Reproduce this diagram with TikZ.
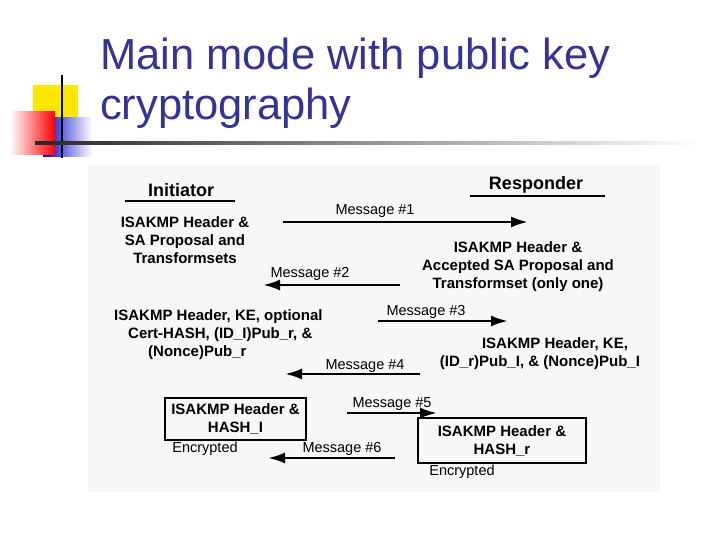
\documentclass[tikz,border=0pt]{standalone}
\usepackage{fontspec}
\setmainfont{Liberation Sans}
\usetikzlibrary{arrows.meta,positioning}
\definecolor{titleblue}{RGB}{51,51,153}
\tikzset{
  msg/.style={font=\fontsize{14.5}{16}\selectfont,inner sep=1pt},
  blk/.style={font=\fontsize{15}{18}\selectfont\bfseries,align=center,inner sep=1pt},
  flow/.style={line width=2.6pt,-{Latex[length=17pt,width=11pt]}},
  hdbox/.style={draw,line width=1.6pt,minimum width=141pt,minimum height=42pt}
}
\begin{document}
\begin{tikzpicture}[x=1pt,y=-1pt]
  \useasboundingbox (0,0) rectangle (720,540);
  % logo
  \fill[yellow!90!orange] (33,85) rectangle (78,125);
  \shade[left color=blue!80!black,right color=white] (43,118) rectangle (92,157);
  \shade[left color=white,right color=red] (10,112) rectangle (55,155);
  \draw[line width=1.5pt] (62,75) -- (62,158);
  \shade[left color=black!85,right color=white] (35,142) rectangle (700,145);
  % title
  \node[anchor=base west,text=titleblue,font=\fontsize{43.5}{50}\selectfont,inner sep=0] (title1) at (100,70) {Main mode with public key};
  \node[anchor=base west,text=titleblue,font=\fontsize{43.5}{50}\selectfont,inner sep=0] (title2) at (100,120) {cryptography};
  % scanned figure
  \fill[black!3] (88,165) rectangle (660,492);
  \node[font=\fontsize{18}{20}\selectfont\bfseries] (init) at (181,190) {Initiator};
  \node[font=\fontsize{18}{20}\selectfont\bfseries] (resp) at (536,185) {Responder};
  \draw[line width=1.2pt] (125,201) -- (235,201);
  \draw[line width=1.2pt] (470,196) -- (605,196);
  % message 1
  \node[msg] (m1) at (375,211) {Message \#1};
  \coordinate (a1s) at (283,222); \coordinate (a1e) at (528,222);
  \draw[flow] (a1s) -- (a1e);
  \node[blk] (b1) at (185,240) {ISAKMP Header \&\\SA Proposal and\\Transformsets};
  % message 2
  \node[blk] (b2) at (518,267) {ISAKMP Header \&\\Accepted SA Proposal and\\Transformset (only one)};
  \node[msg] (m2) at (310,274) {Message \#2};
  \coordinate (a2s) at (400,285); \coordinate (a2e) at (263,285);
  \draw[flow] (a2s) -- (a2e);
  % message 3
  \node[blk,align=left,anchor=north west] (b3) at (113,308) {ISAKMP Header, KE, optional\\\hspace*{14pt}Cert-HASH, (ID\_I)Pub\_r, \&\\\hspace*{34pt}(Nonce)Pub\_r};
  \node[msg] (m3) at (426,312) {Message \#3};
  \coordinate (a3s) at (378,321); \coordinate (a3e) at (508,321);
  \draw[flow] (a3s) -- (a3e);
  % message 4
  \node[blk] (b4) at (540,354) {\hspace*{30pt}ISAKMP Header, KE,\\(ID\_r)Pub\_I, \& (Nonce)Pub\_I};
  \node[msg] (m4) at (365,366) {Message \#4};
  \coordinate (a4s) at (420,374); \coordinate (a4e) at (285,374);
  \draw[flow] (a4s) -- (a4e);
  % message 5 and 6
  \node[hdbox] (box1) at (235.5,419) {};
  \node[blk] at (box1) {ISAKMP Header \&\\HASH\_I};
  \node[msg] (m5) at (392,404) {Message \#5};
  \coordinate (a5s) at (347,413); \coordinate (a5e) at (437,413);
  \draw[flow] (a5s) -- (a5e);
  \node[hdbox,minimum width=168pt,minimum height=45pt] (box2) at (502,440.5) {};
  \node[blk] at (box2) {ISAKMP Header \&\\HASH\_r};
  \node[msg] (enc1) at (205,449) {Encrypted};
  \node[msg] (enc2) at (462,472) {Encrypted};
  \node[msg] (m6) at (342,449) {Message \#6};
  \coordinate (a6s) at (395,458); \coordinate (a6e) at (268,458);
  \draw[flow] (a6s) -- (a6e);
\end{tikzpicture}
\end{document}
